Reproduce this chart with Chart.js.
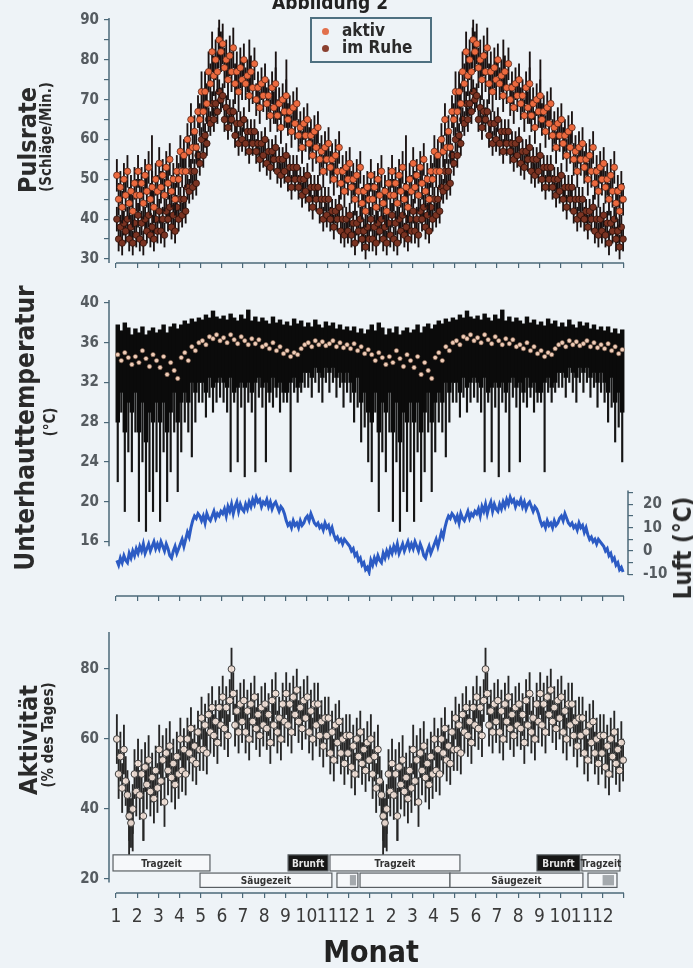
<!DOCTYPE html>
<html lang="de">
<head>
<meta charset="utf-8">
<script src="https://cdn.jsdelivr.net/npm/chart.js@4.4.1/dist/chart.umd.min.js"></script>
<style>
  body { margin: 0; width: 693px; height: 968px; overflow: hidden; position: relative; background: #eef3f7;
         font-family: "Liberation Sans Narrow", "DejaVu Sans Condensed", "Liberation Sans", sans-serif; }
  canvas { position: absolute; left: 0; }
  .rot { position: absolute; white-space: nowrap; font-weight: bold; color: #2a2a2a;
         transform: translate(-50%, -50%) rotate(-90deg); }
  .txt { position: absolute; white-space: nowrap; font-weight: bold; color: #222; transform: translate(-50%, -50%); }
  #legende { position: absolute; left: 310px; top: 17px; width: 118px; height: 42px; border: 2px solid #4e7080; }
  #legende .dot { position: absolute; left: 10px; width: 7px; height: 7px; border-radius: 50%; }
  #legende .lt { position: absolute; left: 30px; font-size: 17px; line-height: 18px; font-weight: bold; color: #2a2a2a; }
</style>
</head>
<body>
<canvas id="puls" width="693" height="285" style="top:0"></canvas>
<canvas id="temp" width="693" height="330" style="top:280px"></canvas>
<canvas id="luft" width="693" height="125" style="top:470px"></canvas>
<canvas id="akt" width="693" height="358" style="top:610px"></canvas>

<div class="txt" style="left:330px; top:2px; font-size:19px;">Abbildung 2</div>
<div id="legende">
  <span class="dot" style="top:9px; background:#e2704c;"></span><span class="lt" style="top:2px;">aktiv</span>
  <span class="dot" style="top:26px; background:#8a4030;"></span><span class="lt" style="top:19px;">im Ruhe</span>
</div>
<div class="rot" style="left:27px; top:140px; font-size:25px;">Pulsrate</div>
<div class="rot" style="left:46px; top:137px; font-size:15px;">(Schläge/Min.)</div>
<div class="rot" style="left:25px; top:428px; font-size:26px;">Unterhauttemperatur</div>
<div class="rot" style="left:50px; top:422px; font-size:15px;">(°C)</div>
<div class="rot" style="left:683px; top:548px; font-size:24px;">Luft (°C)</div>
<div class="rot" style="left:28px; top:740px; font-size:25px;">Aktivität</div>
<div class="rot" style="left:48px; top:735px; font-size:15px;">(% des Tages)</div>
<div class="txt" style="left:371px; top:951px; font-size:30px;">Monat</div>

<script>
// Ein Jahr Messwerte, wird wie im Original doppelt aufgetragen
const monatLabels = ['1', '2', '3', '4', '5', '6', '7', '8', '9', '10', '11', '12'];

// Puls: 12 Werte je Monat
const pulsAktiv = [
  51, 45, 48, 43, 50, 46, 52, 44, 47, 42, 49, 46,
  52, 46, 49, 44, 51, 47, 53, 45, 48, 43, 50, 47,
  54, 48, 51, 46, 53, 49, 55, 47, 50, 45, 52, 50,
  57, 52, 56, 52, 60, 57, 65, 58, 62, 58, 67, 65,
  72, 67, 72, 69, 77, 74, 82, 76, 80, 77, 85, 82,
  84, 78, 80, 75, 81, 77, 83, 74, 77, 72, 78, 75,
  80, 74, 76, 71, 77, 73, 79, 70, 73, 68, 74, 71,
  75, 69, 71, 66, 73, 68, 74, 66, 69, 63, 70, 67,
  71, 65, 67, 62, 68, 64, 69, 61, 63, 58, 64, 61,
  65, 59, 61, 56, 62, 58, 63, 55, 57, 52, 58, 55,
  59, 53, 55, 50, 56, 52, 58, 49, 52, 47, 53, 50,
  54, 48, 50, 45, 51, 47, 53, 44, 47, 42, 48, 45
];
const pulsRuhe = [
  40, 35, 38, 34, 39, 37, 40, 35, 38, 34, 39, 36,
  41, 35, 39, 34, 40, 37, 41, 36, 38, 35, 40, 37,
  42, 37, 40, 36, 42, 40, 43, 38, 41, 37, 43, 40,
  45, 41, 45, 42, 48, 47, 52, 48, 52, 49, 56, 54,
  60, 56, 61, 59, 65, 64, 69, 65, 69, 67, 72, 70,
  71, 65, 68, 63, 67, 65, 67, 61, 64, 59, 64, 60,
  65, 59, 62, 57, 62, 59, 62, 57, 59, 55, 59, 56,
  60, 54, 57, 53, 57, 55, 58, 52, 55, 51, 55, 52,
  56, 50, 53, 48, 53, 50, 53, 48, 50, 46, 50, 47,
  51, 45, 48, 43, 48, 45, 48, 42, 45, 40, 45, 41,
  45, 40, 42, 38, 42, 40, 43, 37, 40, 36, 40, 37,
  41, 36, 39, 34, 39, 37, 40, 35, 37, 33, 38, 35
];
// Standardabweichung je Monat
const pulsAktivSD = [4, 4, 4, 4, 5, 5, 4, 4, 4, 4, 4, 4];
const pulsRuheSD  = [3, 3, 3, 3, 3, 3, 3, 3, 3, 3, 3, 3];
// einzelne lange Fehlerbalken (aktiv)
const pulsSpitzeX  = [1.7, 4.85, 6.3, 7.55, 8.05];
const pulsSpitzeLo = [45, 78, 70, 64, 63];
const pulsSpitzeHi = [61, 88, 85, 82, 80];

// Unterhauttemperatur: 6 Werte je Monat
const hautMittel = [
  34.8, 34.2, 35.0, 34.5, 33.8, 34.6,   34.0, 35.2, 34.4, 33.6, 34.8, 34.2,   33.5, 34.6, 32.8, 34.0, 33.2, 32.4,
  34.5, 35.0, 34.2, 35.6, 35.2, 36.0,   36.2, 35.8, 36.6, 36.4, 36.8, 36.2,   36.5, 36.0, 36.8, 36.3, 35.9, 36.6,
  36.2, 35.8, 36.4, 35.9, 36.3, 35.6,   35.8, 35.4, 36.0, 35.2, 35.6, 34.9,   35.2, 34.6, 35.0, 34.8, 35.4, 35.8,
  36.0, 35.6, 36.2, 35.8, 36.1, 35.7,   35.9, 36.2, 35.6, 36.0, 35.5, 35.8,   35.4, 35.9, 35.2, 35.6, 34.9, 35.3
];
const hautMax = [
  37.8, 37.2, 38.0, 37.5, 36.8, 37.4,   37.0, 37.6, 36.8, 37.2, 37.5, 37.0,   37.3, 37.8, 37.0, 37.6, 37.9, 37.4,
  37.8, 38.2, 37.9, 38.4, 38.1, 38.5,   38.3, 38.8, 38.5, 39.2, 38.6, 38.4,   38.7, 38.3, 38.9, 38.5, 38.2, 38.8,
  38.4, 39.3, 38.2, 38.6, 38.1, 38.5,   38.2, 37.9, 38.6, 38.0, 38.3, 37.8,   38.1, 37.7, 38.4, 37.9, 38.2, 37.6,
  38.0, 37.6, 38.3, 37.8, 37.5, 38.1,   37.7, 38.0, 37.4, 37.8, 37.3, 37.6,   37.2, 37.6, 37.0, 37.4, 36.9, 37.3
];
const hautKern = [
  28, 31, 27, 30, 29, 31,   27, 30, 26, 29, 28, 30,   28, 30, 27, 29, 31, 28,
  30, 31, 30, 32, 31, 32,   32, 31, 32.5, 31.5, 32, 32.5,   32, 31.5, 32.5, 31, 31.5, 32,
  31.5, 32, 31, 32, 32.5, 31.5,   32, 31, 32.5, 31.5, 32, 31,   31, 32, 32.5, 31.5, 32, 33,
  33, 32.5, 33.5, 33, 32.5, 33.5,   33, 33.5, 32.5, 33, 32, 33,   32, 31, 32.5, 30, 31, 29
];
const hautMin = [
  22, 29, 19, 25, 23, 27,   18, 24, 17, 21, 19, 23,   18, 25, 20, 23, 27, 21,
  25, 28, 27, 24.5, 28, 30,   30, 28.5, 30.5, 29, 30, 30.5,   30, 29, 23, 30, 24, 29.5,
  22.5, 30, 29, 23, 30.5, 29.5,   24, 30, 29.5, 30.5, 29, 30,   30, 23, 31, 30, 31, 31.5,
  31.5, 30.5, 32, 31, 30, 32,   31, 32, 30.5, 31.5, 29.5, 31,   30, 28, 29.5, 26, 27.5, 24
];

// Lufttemperatur: 12 Werte je Monat
const luftTemp = [
  -4, -6, -3, -5, -2, -4, -5, -1, -3, 0, -2, 1,
  -1, 2, 0, 3, -1, 1, 3, 0, 2, 4, 1, 3,
  1, 4, 2, 0, 3, 1, -2, -3, 0, 2, -1, 1,
  3, 5, 2, 5, 8, 6, 10, 13, 15, 14, 16, 15,
  13, 15, 12, 16, 14, 13, 15, 17, 14, 16, 15, 17,
  16, 18, 15, 19, 17, 20, 16, 19, 21, 17, 20, 18,
  17, 20, 18, 21, 19, 22, 20, 23, 21, 22, 19, 21,
  20, 22, 19, 21, 18, 20, 21, 19, 17, 19, 18, 16,
  13, 11, 12, 10, 13, 11, 12, 10, 13, 11, 12, 14,
  15, 13, 16, 14, 12, 11, 12, 10, 11, 9, 12, 10,
  11, 8, 10, 7, 5, 6, 4, 5, 3, 5, 4, 3,
  2, 0, 1, -2, -1, -4, -3, -6, -5, -8, -7, -9
];

// Aktivität: 12 Werte je Monat
const aktivitaet = [
  60, 50, 55, 46, 57, 48, 44, 38, 36, 40, 50, 45,
  53, 44, 50, 38, 52, 47, 54, 45, 49, 43, 51, 46,
  57, 48, 54, 42, 56, 51, 58, 49, 53, 47, 55, 50,
  60, 51, 57, 50, 60, 56, 63, 54, 58, 53, 62, 57,
  66, 57, 64, 56, 67, 62, 69, 61, 65, 59, 69, 64,
  72, 63, 69, 61, 71, 80, 73, 64, 68, 62, 70, 65,
  71, 62, 68, 60, 70, 65, 72, 63, 67, 61, 69, 64,
  70, 63, 67, 59, 71, 64, 73, 62, 66, 60, 70, 65,
  73, 64, 70, 62, 72, 67, 74, 65, 69, 63, 71, 66,
  72, 62, 68, 60, 70, 64, 70, 61, 65, 58, 66, 61,
  66, 56, 62, 54, 64, 59, 65, 56, 60, 53, 61, 56,
  61, 52, 58, 50, 60, 55, 62, 53, 57, 51, 59, 54
];
const aktivitaetSD = [7, 7, 7, 6, 6, 6, 6, 6, 6, 6, 6, 6];
const aktSpitzeX  = [0.62, 0.79, 1.3];
const aktSpitzeLo = [26, 28, 31];
const aktSpitzeHi = [48, 45, 46];

// Fortpflanzungsphasen (Monate ab Jan. des 1. Jahres)
const phaseLabel = ['Tragzeit', 'Brunft', 'Tragzeit', 'Brunft', 'Tragzeit', 'Säugezeit', '', '', 'Säugezeit', ''];
const phaseStart = [-0.14, 8.13, 10.11, 19.89, 22.01, 3.97, 10.44, 11.53, 15.78, 22.3];
const phaseEnde  = [4.44, 10.02, 16.25, 21.92, 23.81, 10.2, 11.43, 15.78, 22.06, 23.67];
const phaseZeile = [1, 1, 1, 1, 1, 2, 2, 2, 2, 2];
const ruheStart = [11.05, 22.99];
const ruheEnde  = [11.34, 23.53];

const FONT = '"Liberation Sans Narrow", "DejaVu Sans Condensed", "Liberation Sans", sans-serif';
const AXIS = '#4b6878';
const TICK_COLOR = '#555b60';

const zweiJahre = arr => arr.concat(arr);
const xPos = (i, n) => (i + 0.5) / n;   // n Werte je Monat
const punkte = (vals, n) => zweiJahre(vals).map((v, i) => ({ x: xPos(i, n), y: v }));
const balken = (lo, hi, n) => zweiJahre(lo).map((l, i) => ({ x: xPos(i, n), y: [l, zweiJahre(hi)[i]] }));
const sdBalken = (vals, sd, n) => balken(vals.map((v, i) => v - sd[Math.floor(i / n)]), vals.map((v, i) => v + sd[Math.floor(i / n)]), n);
const spitzen = (xs, lo, hi) => zweiJahre(xs.map((x, i) => ({ x, y: [lo[i], hi[i]] })))
  .map((p, i) => ({ x: i < xs.length ? p.x : p.x + 12, y: p.y }));

// R-artige Achsenlinien (nur zwischen den angegebenen Werten)
const achsenLinien = {
  id: 'achsenLinien',
  afterDraw(chart, args, opts) {
    const ctx = chart.ctx;
    ctx.save();
    ctx.strokeStyle = AXIS;
    ctx.lineWidth = 1.5;
    (opts.lines || []).forEach(([id, von, bis]) => {
      const s = chart.scales[id];
      ctx.beginPath();
      if (s.isHorizontal()) {
        ctx.moveTo(s.getPixelForValue(von), s.top);
        ctx.lineTo(s.getPixelForValue(bis), s.top);
      } else {
        const x = s.position === 'right' ? s.left : s.right;
        ctx.moveTo(x, s.getPixelForValue(von));
        ctx.lineTo(x, s.getPixelForValue(bis));
      }
      ctx.stroke();
    });
    ctx.restore();
  }
};

const phasenPlugin = {
  id: 'phasen',
  afterDatasetsDraw(chart, args, opts) {
    const { ctx, scales: { x, y }, chartArea } = chart;
    ctx.save();
    ctx.textAlign = 'center';
    ctx.textBaseline = 'middle';
    ctx.font = 'bold 10px ' + FONT;
    phaseStart.forEach((s, i) => {
      const band = opts.rows[phaseZeile[i]];
      const x0 = Math.max(x.getPixelForValue(s), chartArea.left);
      const x1 = x.getPixelForValue(phaseEnde[i]);
      const y0 = y.getPixelForValue(band[1]);
      const y1 = y.getPixelForValue(band[0]);
      const dunkel = phaseLabel[i] === 'Brunft';
      ctx.fillStyle = dunkel ? '#161616' : '#f6f8fa';
      ctx.fillRect(x0, y0, x1 - x0, y1 - y0);
      ctx.strokeStyle = '#5a5f63';
      ctx.lineWidth = 1.2;
      ctx.strokeRect(x0, y0, x1 - x0, y1 - y0);
      if (phaseLabel[i]) {
        ctx.fillStyle = dunkel ? '#e6e6e6' : '#333';
        ctx.fillText(phaseLabel[i], (x0 + x1) / 2, (y0 + y1) / 2 + 1);
      }
    });
    ruheStart.forEach((s, i) => {
      const band = opts.rows[2];
      const x0 = x.getPixelForValue(s), x1 = x.getPixelForValue(ruheEnde[i]);
      const y0 = y.getPixelForValue(band[1]) + 2, y1 = y.getPixelForValue(band[0]) - 2;
      ctx.fillStyle = '#a4a9ad';
      ctx.fillRect(x0, y0, x1 - x0, y1 - y0);
    });
    ctx.restore();
  }
};

function xAchse(mitLabels) {
  return {
    type: 'linear', min: -0.33, max: 24.19, offset: false,
    border: { display: false },
    grid: { drawOnChartArea: false, offset: false, tickLength: 5, color: AXIS, lineWidth: 1.2 },
    ticks: mitLabels
      ? { stepSize: 1, includeBounds: false, autoSkip: false, maxRotation: 0, padding: 8,
          font: { family: FONT, size: 19 }, color: '#3a3a3a',
          callback: v => (v < 24 ? monatLabels[v % 12] : '') }
      : { stepSize: 1, includeBounds: false, display: false },
    afterBuildTicks: s => { s.ticks = s.ticks.filter(t => t.value >= 0 && t.value <= 24); },
    afterFit: s => { s.height = mitLabels ? 60 : 10; }
  };
}

function yAchse(min, max, step, von, bis, labelJede, pos) {
  return {
    type: 'linear', min, max, position: pos || 'left',
    border: { display: false },
    grid: { drawOnChartArea: false, tickLength: 5, color: AXIS, lineWidth: 1.2 },
    ticks: { stepSize: step, includeBounds: false, autoSkip: false, padding: pos === 'right' ? 10 : 5,
             font: { family: FONT, size: 15, weight: 'bold' }, color: TICK_COLOR,
             callback: v => (v % labelJede === 0 && v <= bis ? v : '') },
    afterBuildTicks: s => { s.ticks = s.ticks.filter(t => t.value >= von && t.value <= bis); },
    afterFit: s => { s.width = pos === 'right' ? 45 : 50; }
  };
}

const basis = {
  responsive: false, animation: false, events: [],
  plugins: { legend: { display: false }, tooltip: { enabled: false } }
};
const fehlerStil = { type: 'bar', backgroundColor: '#1a1212', barThickness: 1.2, grouped: false };

// 1. Pulsrate
new Chart(document.getElementById('puls'), {
  type: 'scatter',
  data: { datasets: [
    { data: punkte(pulsAktiv, 12), pointRadius: 3.3, backgroundColor: '#ec6a3f', borderColor: '#4a1e12', borderWidth: 0.7, order: 0 },
    { ...fehlerStil, data: sdBalken(pulsAktiv, pulsAktivSD, 12), order: 1 },
    { ...fehlerStil, data: spitzen(pulsSpitzeX, pulsSpitzeLo, pulsSpitzeHi), order: 1 },
    { data: punkte(pulsRuhe, 12), pointRadius: 3.3, backgroundColor: '#7a3322', borderColor: '#220a05', borderWidth: 0.7, order: 2 },
    { ...fehlerStil, data: sdBalken(pulsRuhe, pulsRuheSD, 12), order: 3 }
  ]},
  options: { ...basis,
    layout: { padding: { left: 59, right: 65, top: 18, bottom: 12 } },
    scales: { x: xAchse(false), y: yAchse(29, 90.5, 5, 30, 90, 10) },
    plugins: { ...basis.plugins, achsenLinien: { lines: [['x', 0, 24], ['y', 29, 90.5]] } }
  },
  plugins: [achsenLinien]
});

// 2. Unterhauttemperatur
new Chart(document.getElementById('temp'), {
  type: 'scatter',
  data: { datasets: [
    { data: punkte(hautMittel, 6), pointRadius: 2.2, backgroundColor: '#f0cdb8', borderColor: '#7a5a48', borderWidth: 0.6, order: 0 },
    { type: 'bar', data: balken(hautKern, hautMax, 6), backgroundColor: '#0b0b0b', barThickness: 3.8, grouped: false, order: 1 },
    { type: 'bar', data: balken(hautMin, hautKern, 6), backgroundColor: '#151515', barThickness: 1.5, grouped: false, order: 2 }
  ]},
  options: { ...basis,
    layout: { padding: { left: 59, right: 65, top: 20, bottom: 2 } },
    scales: { x: xAchse(false), y: yAchse(10.5, 40.3, 4, 16, 40, 4) },
    plugins: { ...basis.plugins, achsenLinien: { lines: [['x', 0, 24], ['y', 15.5, 40.3]] } }
  },
  plugins: [achsenLinien]
});

// Lufttemperatur (rechte Achse)
new Chart(document.getElementById('luft'), {
  type: 'scatter',
  data: { datasets: [
    { data: punkte(luftTemp, 12), showLine: true, pointRadius: 0, borderColor: '#2c5bc4', borderWidth: 3 }
  ]},
  options: { ...basis,
    layout: { padding: { left: 109, right: 20, top: 8, bottom: 9 } },
    scales: { x: { ...xAchse(false), display: false }, y: yAchse(-10.7, 26.55, 5, -10, 25, 10, 'right') },
    plugins: { ...basis.plugins, achsenLinien: { lines: [['y', -10.3, 25.9]] } }
  },
  plugins: [achsenLinien]
});

// 3. Aktivität
new Chart(document.getElementById('akt'), {
  type: 'scatter',
  data: { datasets: [
    { data: punkte(aktivitaet, 12), pointRadius: 3.4, backgroundColor: 'rgba(246,228,218,0.9)', borderColor: '#3c3c3c', borderWidth: 1, order: 0 },
    { ...fehlerStil, backgroundColor: '#262626', data: sdBalken(aktivitaet, aktivitaetSD, 12), order: 1 },
    { ...fehlerStil, backgroundColor: '#262626', data: spitzen(aktSpitzeX, aktSpitzeLo, aktSpitzeHi), order: 1 }
  ]},
  options: { ...basis,
    layout: { padding: { left: 59, right: 65, top: 22, bottom: 15 } },
    scales: { x: xAchse(true), y: yAchse(16, 90.6, 20, 20, 80, 20) },
    plugins: { ...basis.plugins,
      achsenLinien: { lines: [['x', 0, 24], ['y', 19, 90.6]] },
      phasen: { rows: { 1: [22.3, 26.9], 2: [17.6, 21.7] } } }
  },
  plugins: [achsenLinien, phasenPlugin]
});
</script>
</body>
</html>
